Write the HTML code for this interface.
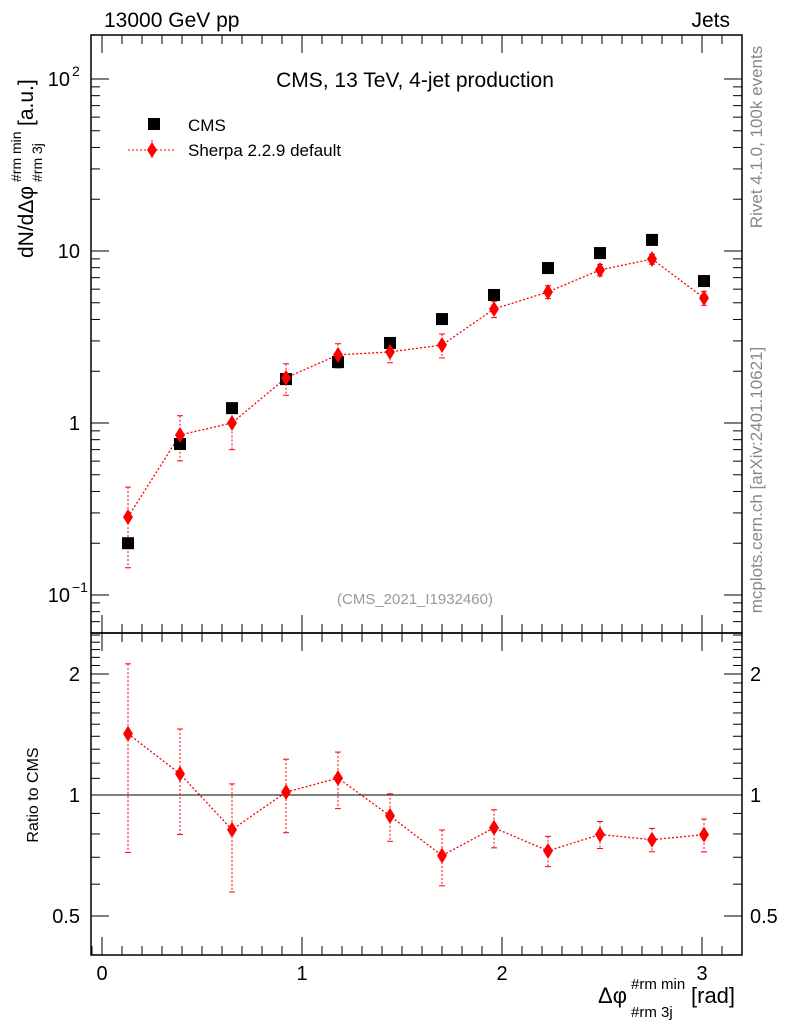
<!DOCTYPE html>
<html><head><meta charset="utf-8"><style>
body{margin:0;background:#fff;}
svg text{font-family:"Liberation Sans",sans-serif;}
</style></head><body>
<svg id="c" width="786" height="1024" xmlns="http://www.w3.org/2000/svg">
<g id="g"></g>
</svg>
<script>
const xVals=[0.13,0.39,0.65,0.92,1.18,1.44,1.70,1.96,2.23,2.49,2.75,3.01];
const cmsVals=[0.20,0.755,1.22,1.80,2.26,2.92,4.02,5.55,7.96,9.73,11.6,6.69];
const sherpaVals=[0.284,0.852,1.0,1.83,2.49,2.59,2.84,4.60,5.78,7.76,8.98,5.33];
const sherpaErr=[0.14,0.25,0.3,0.38,0.4,0.35,0.45,0.5,0.5,0.6,0.6,0.5];
const xTicks=[0,1,2,3];
const yTicks=[[0.1,"10"],[1,"1"],[10,"10"],[100,"10"]];
const rTicks=[[0.5,"0.5"],[1,"1"],[2,"2"]];
const NS="http://www.w3.org/2000/svg";
const g=document.getElementById('g');
function el(t,a,txt){const e=document.createElementNS(NS,t);for(const k in a)e.setAttribute(k,a[k]);if(txt!==undefined)e.textContent=txt;g.appendChild(e);return e;}
const L=91,R=742,T=35,M=633,B=955;
const X=v=>102+v*200;
const Y=v=>423-172*Math.log10(v);
const RY=v=>795-121*Math.log2(v);
let f1=el('rect',{x:L,y:T,width:R-L,height:M-T,fill:'none',stroke:'#000','stroke-width':1.5});

let f2=el('rect',{x:L,y:M,width:R-L,height:B-M,fill:'none',stroke:'#000','stroke-width':1.5});

for(let i=0;i<=32;i++){const v=i/10;const x=X(v);if(x<L||x>R)continue;const big=i%10==0;const len=big?18:9;
 [[T,1],[M,-1],[M,1],[B,-1]].forEach(([y,d])=>el('line',{x1:x,x2:x,y1:y,y2:y+d*len,stroke:'#000'}));}
el('line',{x1:X(-0.05),x2:X(-0.05),y1:B,y2:B-9,stroke:'#000'});
xTicks.forEach(v=>{const t=el('text',{x:X(v),y:980,'font-size':20,'text-anchor':'middle'},String(v));});
for(let d=-2;d<=2;d++)for(let m=1;m<10;m++){const v=m*Math.pow(10,d);const y=Y(v);if(y<T||y>M)continue;const len=m==1?18:9;
 el('line',{x1:L,x2:L+len,y1:y,y2:y,stroke:'#000'});el('line',{x1:R,x2:R-len,y1:y,y2:y,stroke:'#000'});}
yTicks.forEach(([v,s])=>{const y=Y(v);const t=el('text',{x:v==1?80:(v==10?80:70),y:y+7,'font-size':20,'text-anchor':'end'},s);
 
 if(v==0.1||v==100){const sp=el('text',{x:72,y:y-3,'font-size':14},v==0.1?'−1':'2');}});
for(let i=4;i<=25;i++){const v=i/10;const y=RY(v);if(y<M||y>B)continue;const big=(v==0.5||v==1||v==2);const len=big?18:9;
 el('line',{x1:L,x2:L+len,y1:y,y2:y,stroke:'#000'});el('line',{x1:R,x2:R-len,y1:y,y2:y,stroke:'#000'});}
rTicks.forEach(([v,s])=>{const y=RY(v)+7;
 let t=el('text',{x:80,y:y,'font-size':20,'text-anchor':'end'},s);
 t=el('text',{x:750,y:y,'font-size':20},s);});
el('line',{x1:L,x2:R,y1:RY(1),y2:RY(1),stroke:'#000'});
let pts=xVals.map((x,i)=>X(x)+','+Y(sherpaVals[i])).join(' ');
let pl=el('polyline',{points:pts,fill:'none',stroke:'red','stroke-dasharray':'2,2','stroke-width':1.3});

function diamond(x,y,name){const p=el('polygon',{points:`${x},${y-8} ${x+5},${y} ${x},${y+8} ${x-5},${y}`,fill:'red'});}
function err(x,y1,y2){el('line',{x1:x,x2:x,y1:y1,y2:y2,stroke:'red','stroke-dasharray':'2,2'});
 el('line',{x1:x-3,x2:x+3,y1:y1,y2:y1,stroke:'red'});el('line',{x1:x-3,x2:x+3,y1:y2,y2:y2,stroke:'red'});}
xVals.forEach((x,i)=>{const s=sherpaVals[i],e=sherpaErr[i];
 err(X(x),Y(s+e),Y(Math.max(s-e,0.08)));
 const c=el('rect',{x:X(x)-6,y:Y(cmsVals[i])-6,width:12,height:12,fill:'#000'});
 diamond(X(x),Y(s),'sherpa-point');});
const ratio=sherpaVals.map((s,i)=>s/cmsVals[i]);
const rerr=sherpaErr.map((e,i)=>e/cmsVals[i]);
pts=xVals.map((x,i)=>X(x)+','+RY(ratio[i])).join(' ');
pl=el('polyline',{points:pts,fill:'none',stroke:'red','stroke-dasharray':'2,2','stroke-width':1.3});

xVals.forEach((x,i)=>{err(X(x),RY(ratio[i]+rerr[i]),RY(Math.max(ratio[i]-rerr[i],0.45)));diamond(X(x),RY(ratio[i]),'ratio-point');});
let r=el('rect',{x:148,y:118,width:12,height:12,fill:'#000'});
let t=el('text',{x:188,y:131,'font-size':17},'CMS');
el('line',{x1:128,x2:175,y1:150,y2:150,stroke:'red','stroke-dasharray':'2,2'});el('line',{x1:152,x2:152,y1:140,y2:160,stroke:'red','stroke-dasharray':'2,2'});
diamond(152,150,'legend-sherpa-marker');
t=el('text',{x:188,y:156,'font-size':17},'Sherpa 2.2.9 default');
t=el('text',{x:104,y:27,'font-size':21},'13000 GeV pp');
t=el('text',{x:730,y:27,'font-size':21,'text-anchor':'end'},'Jets');
t=el('text',{x:415,y:87,'font-size':21,'text-anchor':'middle'},'CMS, 13 TeV, 4-jet production');
t=el('text',{x:415,y:604,'font-size':15,'text-anchor':'middle',fill:'#999'},'(CMS_2021_I1932460)');
t=el('text',{x:0,y:0,'font-size':17,fill:'#888','text-anchor':'middle',transform:'translate(762,137) rotate(-90)'},'Rivet 4.1.0,  100k events');
t=el('text',{x:0,y:0,'font-size':17,fill:'#888','text-anchor':'middle',transform:'translate(762,480) rotate(-90)'},'mcplots.cern.ch [arXiv:2401.10621]');
t=el('text',{x:0,y:0,'font-size':16,'text-anchor':'middle',transform:'translate(38,795) rotate(-90)'},'Ratio to CMS');
t=el('text',{x:0,y:0,'font-size':21,transform:'translate(33,258) rotate(-90)'});
t.innerHTML='<tspan x="0" y="0">dN/dΔφ</tspan><tspan x="76" y="-12" font-size="14">#rm min</tspan><tspan x="76" y="9" font-size="14">#rm 3j</tspan><tspan x="132" y="0">[a.u.]</tspan>';
t=el('text',{x:0,y:0,'font-size':22,transform:'translate(598,1003)'});
t.innerHTML='<tspan x="0" y="0">Δφ</tspan><tspan x="33" y="-14" font-size="15">#rm min</tspan><tspan x="33" y="14" font-size="15">#rm 3j</tspan><tspan x="93" y="0">[rad]</tspan>';
</script>
</body></html>
